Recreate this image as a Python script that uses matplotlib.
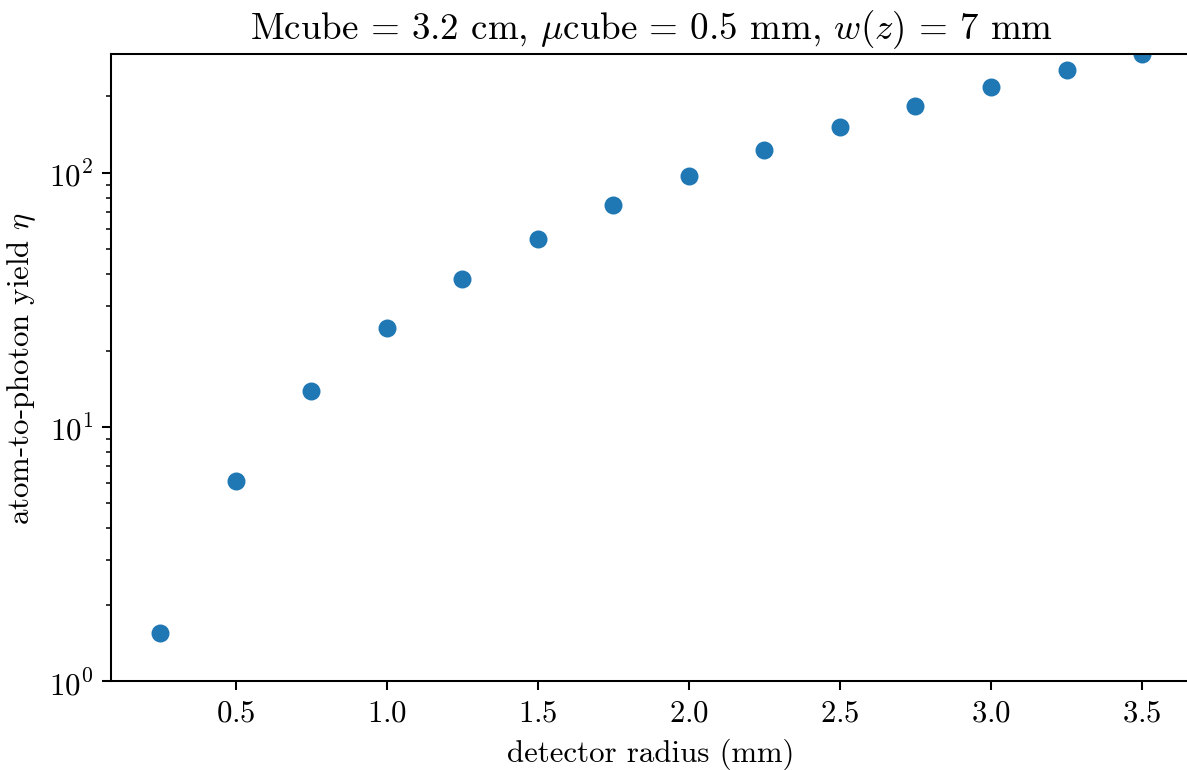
import matplotlib
matplotlib.use("Agg")
import matplotlib.pyplot as plt

# detector radius (mm) and atom-to-photon yield
radius = [0.25, 0.5, 0.75, 1.0, 1.25, 1.5, 1.75, 2.0, 2.25, 2.5, 2.75, 3.0, 3.25, 3.5]
yield_eta = [1.55, 6.13, 13.9, 24.5, 38.3, 55.0, 74.8, 97.3, 123.0, 152.0, 184.0, 218.0, 254.0, 294.0]

plt.rcParams.update({
    "font.family": "serif",
    "font.serif": ["cmr10"],
    "mathtext.fontset": "cm",
    "axes.formatter.use_mathtext": True,
    "axes.unicode_minus": False,
    "font.size": 12,
})

DPI = 185
fig = plt.figure(figsize=(1187 / DPI, 771 / DPI), dpi=DPI)
ax = fig.add_axes([0.0935, 0.1154, 0.9100, 0.8133])

ax.scatter(radius, yield_eta, color="#1f77b4")
ax.set_yscale("log")
ax.set_ylim(1, max(yield_eta))
ax.spines["right"].set_visible(False)

ax.set_xlabel("detector radius (mm)")
ax.set_ylabel(r"atom-to-photon yield $\eta$")
ax.set_title(r"Mcube = 3.2 cm, $\mu$cube = 0.5 mm, $w(z)$ = 7 mm", fontsize=14.4)

fig.savefig("out.png", dpi=DPI)
